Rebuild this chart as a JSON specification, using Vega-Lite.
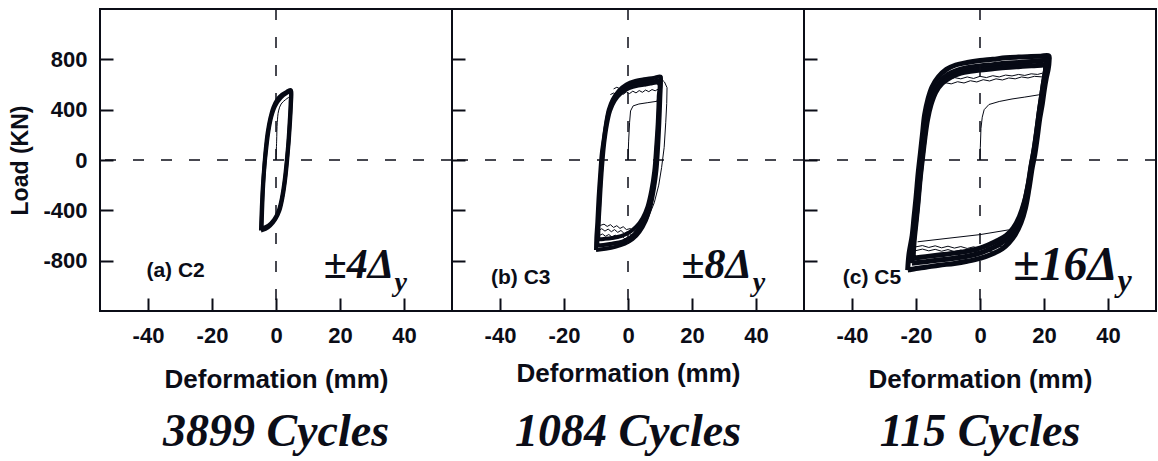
{
  "$schema": "https://vega.github.io/schema/vega-lite/v6.json",
  "padding": {"left": 8, "top": 7, "right": 0, "bottom": 0},
  "autosize": {"type": "pad"},
  "spacing": 0,
  "bounds": "flush",
  "background": "white",
  "config": {
    "view": {"stroke": "#0b0d17", "strokeWidth": 2},
    "axis": {"domain": false, "grid": false, "tickColor": "#0b0d17", "tickWidth": 2, "tickSize": -13,
      "labelFont": "Liberation Sans", "labelFontWeight": "bold", "labelFontSize": 22, "labelColor": "#0b0d17",
      "labelExpr": "'' + datum.value",
      "titleFont": "Liberation Sans", "titleFontWeight": "bold", "titleColor": "#0b0d17"},
    "title": {"font": "Liberation Serif", "fontSize": 46, "fontStyle": "italic", "fontWeight": "bold", "color": "#0b0d17", "orient": "bottom", "offset": 18}
  },
  "datasets": {
    "c2_env": [
      {"loop":"A","i":0,"x":-4.7,"y":-560},{"loop":"A","i":1,"x":-4.6,"y":-480},{"loop":"A","i":2,"x":-4.4,"y":-350},{"loop":"A","i":3,"x":-4.1,"y":-200},{"loop":"A","i":4,"x":-3.7,"y":-60},{"loop":"A","i":5,"x":-3.2,"y":90},{"loop":"A","i":6,"x":-2.6,"y":220},{"loop":"A","i":7,"x":-1.8,"y":330},{"loop":"A","i":8,"x":-0.8,"y":420},{"loop":"A","i":9,"x":0.4,"y":480},{"loop":"A","i":10,"x":1.9,"y":520},{"loop":"A","i":11,"x":3.4,"y":543},{"loop":"A","i":12,"x":4.6,"y":556},{"loop":"A","i":13,"x":4.8,"y":540},{"loop":"A","i":14,"x":4.7,"y":450},{"loop":"A","i":15,"x":4.4,"y":300},{"loop":"A","i":16,"x":4.0,"y":150},{"loop":"A","i":17,"x":3.5,"y":0},{"loop":"A","i":18,"x":2.9,"y":-150},{"loop":"A","i":19,"x":2.1,"y":-290},{"loop":"A","i":20,"x":1.1,"y":-400},{"loop":"A","i":21,"x":-0.2,"y":-470},{"loop":"A","i":22,"x":-1.8,"y":-520},{"loop":"A","i":23,"x":-3.3,"y":-548},{"loop":"A","i":24,"x":-4.7,"y":-560},
      {"loop":"B","i":0,"x":-4.5,"y":-545},{"loop":"B","i":1,"x":-4.35,"y":-420},{"loop":"B","i":2,"x":-4.05,"y":-230},{"loop":"B","i":3,"x":-3.6,"y":-50},{"loop":"B","i":4,"x":-3.0,"y":100},{"loop":"B","i":5,"x":-2.35,"y":230},{"loop":"B","i":6,"x":-1.5,"y":340},{"loop":"B","i":7,"x":-0.3,"y":428},{"loop":"B","i":8,"x":1.5,"y":495},{"loop":"B","i":9,"x":3.2,"y":530},{"loop":"B","i":10,"x":4.45,"y":543},{"loop":"B","i":11,"x":4.55,"y":450},{"loop":"B","i":12,"x":4.25,"y":300},{"loop":"B","i":13,"x":3.85,"y":140},{"loop":"B","i":14,"x":3.35,"y":-5},{"loop":"B","i":15,"x":2.7,"y":-160},{"loop":"B","i":16,"x":1.85,"y":-300},{"loop":"B","i":17,"x":0.8,"y":-405},{"loop":"B","i":18,"x":-0.6,"y":-475},{"loop":"B","i":19,"x":-2.4,"y":-522},{"loop":"B","i":20,"x":-4.5,"y":-545}
    ],
    "c2_thin": [
      {"loop":"I","i":0,"x":0,"y":0},{"loop":"I","i":1,"x":0.2,"y":150},{"loop":"I","i":2,"x":0.4,"y":300},{"loop":"I","i":3,"x":0.8,"y":390},{"loop":"I","i":4,"x":1.6,"y":445},{"loop":"I","i":5,"x":3,"y":480},{"loop":"I","i":6,"x":4.4,"y":505}
    ],
    "c3_env": [
      {"loop":"A","i":0,"x":-10,"y":-715},{"loop":"A","i":1,"x":-9.9,"y":-620},{"loop":"A","i":2,"x":-9.6,"y":-500},{"loop":"A","i":3,"x":-9.2,"y":-300},{"loop":"A","i":4,"x":-8.8,"y":-150},{"loop":"A","i":5,"x":-8.2,"y":50},{"loop":"A","i":6,"x":-7.6,"y":160},{"loop":"A","i":7,"x":-6.8,"y":300},{"loop":"A","i":8,"x":-6,"y":400},{"loop":"A","i":9,"x":-4.8,"y":480},{"loop":"A","i":10,"x":-2.9,"y":550},{"loop":"A","i":11,"x":-0.5,"y":600},{"loop":"A","i":12,"x":2.3,"y":628},{"loop":"A","i":13,"x":5,"y":642},{"loop":"A","i":14,"x":8,"y":652},{"loop":"A","i":15,"x":10.2,"y":662},{"loop":"A","i":16,"x":10.3,"y":630},{"loop":"A","i":17,"x":10.1,"y":500},{"loop":"A","i":18,"x":9.8,"y":300},{"loop":"A","i":19,"x":9.4,"y":100},{"loop":"A","i":20,"x":8.9,"y":-80},{"loop":"A","i":21,"x":8.1,"y":-230},{"loop":"A","i":22,"x":7,"y":-370},{"loop":"A","i":23,"x":5.6,"y":-480},{"loop":"A","i":24,"x":3.6,"y":-570},{"loop":"A","i":25,"x":1.4,"y":-630},{"loop":"A","i":26,"x":-1,"y":-665},{"loop":"A","i":27,"x":-4,"y":-690},{"loop":"A","i":28,"x":-7,"y":-705},{"loop":"A","i":29,"x":-10,"y":-715},
      {"loop":"B","i":0,"x":-9.6,"y":-680},{"loop":"B","i":1,"x":-9.5,"y":-600},{"loop":"B","i":2,"x":-9.2,"y":-450},{"loop":"B","i":3,"x":-8.8,"y":-250},{"loop":"B","i":4,"x":-8.3,"y":-50},{"loop":"B","i":5,"x":-7.7,"y":120},{"loop":"B","i":6,"x":-6.9,"y":270},{"loop":"B","i":7,"x":-5.9,"y":390},{"loop":"B","i":8,"x":-4.5,"y":480},{"loop":"B","i":9,"x":-2.5,"y":545},{"loop":"B","i":10,"x":0,"y":585},{"loop":"B","i":11,"x":3,"y":608},{"loop":"B","i":12,"x":6,"y":620},{"loop":"B","i":13,"x":8.7,"y":628},{"loop":"B","i":14,"x":9.9,"y":632},{"loop":"B","i":15,"x":9.8,"y":500},{"loop":"B","i":16,"x":9.5,"y":300},{"loop":"B","i":17,"x":9,"y":100},{"loop":"B","i":18,"x":8.5,"y":-80},{"loop":"B","i":19,"x":7.7,"y":-230},{"loop":"B","i":20,"x":6.5,"y":-370},{"loop":"B","i":21,"x":5,"y":-480},{"loop":"B","i":22,"x":3,"y":-560},{"loop":"B","i":23,"x":0.8,"y":-615},{"loop":"B","i":24,"x":-1.8,"y":-648},{"loop":"B","i":25,"x":-5,"y":-665},{"loop":"B","i":26,"x":-7.7,"y":-675},{"loop":"B","i":27,"x":-9.6,"y":-680},
      {"loop":"C","i":0,"x":-9.3,"y":-630},{"loop":"C","i":1,"x":-9.2,"y":-520},{"loop":"C","i":2,"x":-8.9,"y":-380},{"loop":"C","i":3,"x":-8.5,"y":-200},{"loop":"C","i":4,"x":-8,"y":-20},{"loop":"C","i":5,"x":-7.4,"y":140},{"loop":"C","i":6,"x":-6.6,"y":280},{"loop":"C","i":7,"x":-5.6,"y":390},{"loop":"C","i":8,"x":-4.2,"y":470},{"loop":"C","i":9,"x":-2.2,"y":530},{"loop":"C","i":10,"x":0.3,"y":570},{"loop":"C","i":11,"x":3.2,"y":592},{"loop":"C","i":12,"x":6.2,"y":603},{"loop":"C","i":13,"x":9.6,"y":610},{"loop":"C","i":14,"x":9.6,"y":500},{"loop":"C","i":15,"x":9.3,"y":300},{"loop":"C","i":16,"x":8.8,"y":100},{"loop":"C","i":17,"x":8.2,"y":-90},{"loop":"C","i":18,"x":7.3,"y":-240},{"loop":"C","i":19,"x":6.1,"y":-370},{"loop":"C","i":20,"x":4.6,"y":-460},{"loop":"C","i":21,"x":2.6,"y":-530},{"loop":"C","i":22,"x":0.4,"y":-575},{"loop":"C","i":23,"x":-2.2,"y":-605},{"loop":"C","i":24,"x":-5,"y":-620},{"loop":"C","i":25,"x":-7.5,"y":-627},{"loop":"C","i":26,"x":-9.3,"y":-630}
    ],
    "c3_thin": [
      {"loop":"T1","i":0,"x":10.2,"y":650},{"loop":"T1","i":1,"x":11.4,"y":620},{"loop":"T1","i":2,"x":12.2,"y":575},{"loop":"T1","i":3,"x":12.1,"y":450},{"loop":"T1","i":4,"x":11.8,"y":300},{"loop":"T1","i":5,"x":11.3,"y":100},{"loop":"T1","i":6,"x":10.5,"y":-60},{"loop":"T1","i":7,"x":9.6,"y":-200},{"loop":"T1","i":8,"x":8.2,"y":-340},{"loop":"T1","i":9,"x":6.3,"y":-460},{"loop":"T1","i":10,"x":4.2,"y":-545},
      {"loop":"T2","i":0,"x":0,"y":0},{"loop":"T2","i":1,"x":0.2,"y":150},{"loop":"T2","i":2,"x":0.5,"y":300},{"loop":"T2","i":3,"x":0.8,"y":390},{"loop":"T2","i":4,"x":1.6,"y":430},{"loop":"T2","i":5,"x":3.4,"y":445},{"loop":"T2","i":6,"x":6,"y":455},{"loop":"T2","i":7,"x":9.1,"y":467},{"loop":"T2","i":8,"x":9.7,"y":560},
      {"loop":"J1","i":0,"x":-5.5,"y":520},{"loop":"J1","i":1,"x":-4.5,"y":532},{"loop":"J1","i":2,"x":-3.5,"y":518},{"loop":"J1","i":3,"x":-2.5,"y":536},{"loop":"J1","i":4,"x":-1.5,"y":522},{"loop":"J1","i":5,"x":-0.5,"y":541},{"loop":"J1","i":6,"x":0.5,"y":528},{"loop":"J1","i":7,"x":1.5,"y":547},{"loop":"J1","i":8,"x":2.5,"y":533},{"loop":"J1","i":9,"x":3.5,"y":552},{"loop":"J1","i":10,"x":4.5,"y":538},{"loop":"J1","i":11,"x":5.5,"y":556},{"loop":"J1","i":12,"x":6.5,"y":543},{"loop":"J1","i":13,"x":7.5,"y":560},{"loop":"J1","i":14,"x":8.5,"y":550},{"loop":"J1","i":15,"x":9.4,"y":563},
      {"loop":"J2","i":0,"x":-4.5,"y":565},{"loop":"J2","i":1,"x":-3.5,"y":578},{"loop":"J2","i":2,"x":-2.5,"y":566},{"loop":"J2","i":3,"x":-1.5,"y":583},{"loop":"J2","i":4,"x":-0.5,"y":571},{"loop":"J2","i":5,"x":0.5,"y":590},{"loop":"J2","i":6,"x":1.5,"y":578},{"loop":"J2","i":7,"x":2.5,"y":596},{"loop":"J2","i":8,"x":3.5,"y":585},{"loop":"J2","i":9,"x":4.5,"y":601},{"loop":"J2","i":10,"x":5.5,"y":590},{"loop":"J2","i":11,"x":6.5,"y":606},{"loop":"J2","i":12,"x":7.5,"y":597},{"loop":"J2","i":13,"x":8.5,"y":610},{"loop":"J2","i":14,"x":9.5,"y":604},
      {"loop":"J3","i":0,"x":-9.2,"y":-560},{"loop":"J3","i":1,"x":-8.2,"y":-546},{"loop":"J3","i":2,"x":-7.2,"y":-565},{"loop":"J3","i":3,"x":-6.2,"y":-549},{"loop":"J3","i":4,"x":-5.2,"y":-570},{"loop":"J3","i":5,"x":-4.2,"y":-553},{"loop":"J3","i":6,"x":-3.2,"y":-575},{"loop":"J3","i":7,"x":-2.2,"y":-560},{"loop":"J3","i":8,"x":-1.2,"y":-584},{"loop":"J3","i":9,"x":-0.2,"y":-570},{"loop":"J3","i":10,"x":0.8,"y":-594},{"loop":"J3","i":11,"x":2,"y":-600},
      {"loop":"J4","i":0,"x":-9,"y":-600},{"loop":"J4","i":1,"x":-8,"y":-588},{"loop":"J4","i":2,"x":-7,"y":-606},{"loop":"J4","i":3,"x":-6,"y":-592},{"loop":"J4","i":4,"x":-5,"y":-612},{"loop":"J4","i":5,"x":-4,"y":-597},{"loop":"J4","i":6,"x":-3,"y":-618},{"loop":"J4","i":7,"x":-2,"y":-604},{"loop":"J4","i":8,"x":-1,"y":-626},{"loop":"J4","i":9,"x":0,"y":-615},
      {"loop":"J5","i":0,"x":-8.7,"y":-520},{"loop":"J5","i":1,"x":-7.5,"y":-510},{"loop":"J5","i":2,"x":-6.5,"y":-528},{"loop":"J5","i":3,"x":-5.5,"y":-514},{"loop":"J5","i":4,"x":-4.5,"y":-536},{"loop":"J5","i":5,"x":-3.5,"y":-522},{"loop":"J5","i":6,"x":-2.5,"y":-544},{"loop":"J5","i":7,"x":-1.5,"y":-530},{"loop":"J5","i":8,"x":-0.5,"y":-553},{"loop":"J5","i":9,"x":0.7,"y":-545},{"loop":"J5","i":10,"x":2,"y":-565},{"loop":"J5","i":11,"x":3.3,"y":-560}
    ],
    "c5_env": [
      {"loop":"A","i":0,"x":-22.6,"y":-875},{"loop":"A","i":1,"x":-22.2,"y":-750},{"loop":"A","i":2,"x":-21.2,"y":-600},{"loop":"A","i":3,"x":-20.6,"y":-450},{"loop":"A","i":4,"x":-20,"y":-300},{"loop":"A","i":5,"x":-19.3,"y":-100},{"loop":"A","i":6,"x":-18.6,"y":60},{"loop":"A","i":7,"x":-18,"y":200},{"loop":"A","i":8,"x":-17.3,"y":360},{"loop":"A","i":9,"x":-16.3,"y":480},{"loop":"A","i":10,"x":-15,"y":580},{"loop":"A","i":11,"x":-13,"y":660},{"loop":"A","i":12,"x":-10.5,"y":720},{"loop":"A","i":13,"x":-7.6,"y":755},{"loop":"A","i":14,"x":-4,"y":775},{"loop":"A","i":15,"x":0,"y":790},{"loop":"A","i":16,"x":4,"y":800},{"loop":"A","i":17,"x":8,"y":812},{"loop":"A","i":18,"x":12,"y":818},{"loop":"A","i":19,"x":16,"y":822},{"loop":"A","i":20,"x":19,"y":825},{"loop":"A","i":21,"x":21.5,"y":828},{"loop":"A","i":22,"x":21.6,"y":790},{"loop":"A","i":23,"x":21.3,"y":720},{"loop":"A","i":24,"x":20.7,"y":650},{"loop":"A","i":25,"x":20.1,"y":560},{"loop":"A","i":26,"x":19.5,"y":450},{"loop":"A","i":27,"x":18.7,"y":334},{"loop":"A","i":28,"x":17.9,"y":180},{"loop":"A","i":29,"x":17.1,"y":40},{"loop":"A","i":30,"x":16.3,"y":-64},{"loop":"A","i":31,"x":15.3,"y":-230},{"loop":"A","i":32,"x":14.2,"y":-382},{"loop":"A","i":33,"x":12.8,"y":-500},{"loop":"A","i":34,"x":11,"y":-594},{"loop":"A","i":35,"x":9,"y":-660},{"loop":"A","i":36,"x":7,"y":-705},{"loop":"A","i":37,"x":4,"y":-745},{"loop":"A","i":38,"x":0,"y":-782},{"loop":"A","i":39,"x":-4,"y":-805},{"loop":"A","i":40,"x":-8,"y":-822},{"loop":"A","i":41,"x":-12.8,"y":-836},{"loop":"A","i":42,"x":-17,"y":-852},{"loop":"A","i":43,"x":-20,"y":-862},{"loop":"A","i":44,"x":-22.6,"y":-875},
      {"loop":"B","i":0,"x":-21.3,"y":-820},{"loop":"B","i":1,"x":-21,"y":-700},{"loop":"B","i":2,"x":-20.4,"y":-550},{"loop":"B","i":3,"x":-19.7,"y":-400},{"loop":"B","i":4,"x":-19,"y":-200},{"loop":"B","i":5,"x":-18.2,"y":0},{"loop":"B","i":6,"x":-17.5,"y":150},{"loop":"B","i":7,"x":-16.8,"y":300},{"loop":"B","i":8,"x":-15.8,"y":430},{"loop":"B","i":9,"x":-14.4,"y":540},{"loop":"B","i":10,"x":-12.5,"y":620},{"loop":"B","i":11,"x":-10,"y":680},{"loop":"B","i":12,"x":-7,"y":715},{"loop":"B","i":13,"x":-3.5,"y":735},{"loop":"B","i":14,"x":0,"y":748},{"loop":"B","i":15,"x":4,"y":758},{"loop":"B","i":16,"x":8,"y":768},{"loop":"B","i":17,"x":12,"y":775},{"loop":"B","i":18,"x":16,"y":782},{"loop":"B","i":19,"x":19.5,"y":790},{"loop":"B","i":20,"x":21,"y":795},{"loop":"B","i":21,"x":20.8,"y":760},{"loop":"B","i":22,"x":20.3,"y":680},{"loop":"B","i":23,"x":19.7,"y":590},{"loop":"B","i":24,"x":19.1,"y":480},{"loop":"B","i":25,"x":18.4,"y":360},{"loop":"B","i":26,"x":17.6,"y":210},{"loop":"B","i":27,"x":16.8,"y":70},{"loop":"B","i":28,"x":16,"y":-40},{"loop":"B","i":29,"x":15,"y":-200},{"loop":"B","i":30,"x":13.8,"y":-350},{"loop":"B","i":31,"x":12.3,"y":-470},{"loop":"B","i":32,"x":10.5,"y":-560},{"loop":"B","i":33,"x":8.5,"y":-625},{"loop":"B","i":34,"x":6,"y":-670},{"loop":"B","i":35,"x":3,"y":-710},{"loop":"B","i":36,"x":0,"y":-740},{"loop":"B","i":37,"x":-4,"y":-765},{"loop":"B","i":38,"x":-8,"y":-780},{"loop":"B","i":39,"x":-12.8,"y":-795},{"loop":"B","i":40,"x":-17,"y":-808},{"loop":"B","i":41,"x":-21.3,"y":-820},
      {"loop":"C","i":0,"x":-20.9,"y":-780},{"loop":"C","i":1,"x":-20.6,"y":-650},{"loop":"C","i":2,"x":-20,"y":-500},{"loop":"C","i":3,"x":-19.4,"y":-350},{"loop":"C","i":4,"x":-18.7,"y":-150},{"loop":"C","i":5,"x":-17.9,"y":30},{"loop":"C","i":6,"x":-17.2,"y":180},{"loop":"C","i":7,"x":-16.4,"y":320},{"loop":"C","i":8,"x":-15.3,"y":440},{"loop":"C","i":9,"x":-13.8,"y":540},{"loop":"C","i":10,"x":-11.8,"y":610},{"loop":"C","i":11,"x":-9,"y":660},{"loop":"C","i":12,"x":-6,"y":690},{"loop":"C","i":13,"x":-3,"y":705},{"loop":"C","i":14,"x":0,"y":715},{"loop":"C","i":15,"x":4,"y":725},{"loop":"C","i":16,"x":8,"y":735},{"loop":"C","i":17,"x":12,"y":742},{"loop":"C","i":18,"x":16,"y":748},{"loop":"C","i":19,"x":19.6,"y":755},{"loop":"C","i":20,"x":20.6,"y":760},{"loop":"C","i":21,"x":20.4,"y":700},{"loop":"C","i":22,"x":19.9,"y":620},{"loop":"C","i":23,"x":19.3,"y":520},{"loop":"C","i":24,"x":18.6,"y":400},{"loop":"C","i":25,"x":17.9,"y":260},{"loop":"C","i":26,"x":17.1,"y":110},{"loop":"C","i":27,"x":16.2,"y":-20},{"loop":"C","i":28,"x":15.2,"y":-180},{"loop":"C","i":29,"x":13.9,"y":-330},{"loop":"C","i":30,"x":12.3,"y":-450},{"loop":"C","i":31,"x":10.4,"y":-540},{"loop":"C","i":32,"x":8.2,"y":-600},{"loop":"C","i":33,"x":5.5,"y":-640},{"loop":"C","i":34,"x":2.5,"y":-675},{"loop":"C","i":35,"x":0,"y":-700},{"loop":"C","i":36,"x":-4,"y":-725},{"loop":"C","i":37,"x":-8,"y":-740},{"loop":"C","i":38,"x":-12.8,"y":-755},{"loop":"C","i":39,"x":-17,"y":-768},{"loop":"C","i":40,"x":-20.9,"y":-780}
    ],
    "c5_thin": [
      {"loop":"I","i":0,"x":0,"y":0},{"loop":"I","i":1,"x":0.1,"y":100},{"loop":"I","i":2,"x":0.3,"y":250},{"loop":"I","i":3,"x":0.7,"y":340},{"loop":"I","i":4,"x":1.3,"y":400},{"loop":"I","i":5,"x":2.8,"y":441},{"loop":"I","i":6,"x":6,"y":465},{"loop":"I","i":7,"x":10,"y":485},{"loop":"I","i":8,"x":14,"y":500},{"loop":"I","i":9,"x":18.4,"y":518},{"loop":"I","i":10,"x":19.6,"y":525},{"loop":"I","i":11,"x":19.7,"y":640},{"loop":"I","i":12,"x":19.9,"y":740},
      {"loop":"B1","i":0,"x":-19.5,"y":-650},{"loop":"B1","i":1,"x":-10,"y":-622},{"loop":"B1","i":2,"x":0,"y":-593},{"loop":"B1","i":3,"x":9,"y":-555},
      {"loop":"J1","i":0,"x":-14,"y":640},{"loop":"J1","i":1,"x":-12,"y":650},{"loop":"J1","i":2,"x":-10,"y":638},{"loop":"J1","i":3,"x":-8,"y":655},{"loop":"J1","i":4,"x":-6,"y":645},{"loop":"J1","i":5,"x":-4,"y":660},{"loop":"J1","i":6,"x":-2,"y":648},{"loop":"J1","i":7,"x":0,"y":665},{"loop":"J1","i":8,"x":2,"y":655},{"loop":"J1","i":9,"x":4,"y":670},{"loop":"J1","i":10,"x":6,"y":660},{"loop":"J1","i":11,"x":8,"y":675},{"loop":"J1","i":12,"x":10,"y":668},{"loop":"J1","i":13,"x":12,"y":680},{"loop":"J1","i":14,"x":14,"y":672},{"loop":"J1","i":15,"x":16,"y":685},{"loop":"J1","i":16,"x":18,"y":680},{"loop":"J1","i":17,"x":19.5,"y":690},
      {"loop":"J2","i":0,"x":-13,"y":600},{"loop":"J2","i":1,"x":-11,"y":615},{"loop":"J2","i":2,"x":-9,"y":605},{"loop":"J2","i":3,"x":-7,"y":622},{"loop":"J2","i":4,"x":-5,"y":612},{"loop":"J2","i":5,"x":-3,"y":630},{"loop":"J2","i":6,"x":-1,"y":620},{"loop":"J2","i":7,"x":1,"y":638},{"loop":"J2","i":8,"x":3,"y":628},{"loop":"J2","i":9,"x":5,"y":645},{"loop":"J2","i":10,"x":7,"y":636},{"loop":"J2","i":11,"x":9,"y":652},{"loop":"J2","i":12,"x":11,"y":645},{"loop":"J2","i":13,"x":13,"y":660},{"loop":"J2","i":14,"x":15,"y":652},{"loop":"J2","i":15,"x":17,"y":665},{"loop":"J2","i":16,"x":19.5,"y":660},
      {"loop":"J3","i":0,"x":-20,"y":-690},{"loop":"J3","i":1,"x":-18,"y":-680},{"loop":"J3","i":2,"x":-16,"y":-695},{"loop":"J3","i":3,"x":-14,"y":-682},{"loop":"J3","i":4,"x":-12,"y":-698},{"loop":"J3","i":5,"x":-10,"y":-685},{"loop":"J3","i":6,"x":-8,"y":-700},{"loop":"J3","i":7,"x":-6,"y":-688},{"loop":"J3","i":8,"x":-4,"y":-703},{"loop":"J3","i":9,"x":-2,"y":-690},{"loop":"J3","i":10,"x":0,"y":-706},{"loop":"J3","i":11,"x":2,"y":-695},{"loop":"J3","i":12,"x":4,"y":-705},{"loop":"J3","i":13,"x":6,"y":-690},{"loop":"J3","i":14,"x":8,"y":-680},
      {"loop":"J4","i":0,"x":-20,"y":-720},{"loop":"J4","i":1,"x":-18,"y":-708},{"loop":"J4","i":2,"x":-16,"y":-722},{"loop":"J4","i":3,"x":-14,"y":-710},{"loop":"J4","i":4,"x":-12,"y":-725},{"loop":"J4","i":5,"x":-10,"y":-712},{"loop":"J4","i":6,"x":-8,"y":-728},{"loop":"J4","i":7,"x":-6,"y":-716},{"loop":"J4","i":8,"x":-4,"y":-730},{"loop":"J4","i":9,"x":-2,"y":-720},{"loop":"J4","i":10,"x":0,"y":-735},{"loop":"J4","i":11,"x":2,"y":-725},{"loop":"J4","i":12,"x":4,"y":-730}
    ]
  },
  "hconcat": [
    {
      "width": 352, "height": 302,
      "title": {"text": "3899 Cycles", "offset": 18},
      "layer": [
        {"data": {"name": "c2_env"}, "mark": {"type": "line", "interpolate": "catmull-rom", "strokeWidth": 4, "color": "#060914"},
         "encoding": {
           "x": {"field": "x", "type": "quantitative", "scale": {"domain": [-55, 55], "nice": false, "zero": false},
                 "axis": {"title": "Deformation (mm)", "values": [-40, -20, 0, 20, 40], "labelPadding": 27, "titleFontSize": 26, "titlePadding": 20}},
           "y": {"field": "y", "type": "quantitative", "scale": {"domain": [-1200, 1200], "nice": false, "zero": false},
                 "axis": {"title": "Load (KN)", "values": [-800, -400, 0, 400, 800], "labelPadding": 26, "titleFontSize": 23, "titlePadding": 10}},
           "detail": {"field": "loop"}, "order": {"field": "i", "type": "quantitative"}}},
        {"data": {"values": [{}]}, "mark": {"type": "rule", "strokeDash": [11, 17], "strokeWidth": 1.5, "color": "#0b0d17"},
         "encoding": {"y": {"datum": 0, "type": "quantitative"}}},
        {"data": {"values": [{}]}, "mark": {"type": "rule", "strokeDash": [11, 17], "strokeWidth": 1.5, "color": "#0b0d17"},
         "encoding": {"x": {"datum": 0, "type": "quantitative"}}},
        {"data": {"name": "c2_thin"}, "mark": {"type": "line", "interpolate": "catmull-rom", "strokeWidth": 1, "color": "#060914"},
         "encoding": {
           "x": {"field": "x", "type": "quantitative"},
           "y": {"field": "y", "type": "quantitative"},
           "detail": {"field": "loop"}, "order": {"field": "i", "type": "quantitative"}}},
        {"data": {"values": [{"x": -40.5, "y": -886, "t": "(a) C2"}]},
         "mark": {"type": "text", "align": "left", "baseline": "middle", "font": "Liberation Sans", "fontWeight": "bold", "fontSize": 21, "color": "#0b0d17"},
         "encoding": {"x": {"field": "x", "type": "quantitative"}, "y": {"field": "y", "type": "quantitative"}, "text": {"field": "t"}}},
        {"data": {"values": [{"x": 25.9, "y": -934, "t": "±4Δ"}]},
         "mark": {"type": "text", "align": "center", "baseline": "alphabetic", "font": "Liberation Serif", "fontStyle": "italic", "fontWeight": "bold", "fontSize": 42, "color": "#0b0d17"},
         "encoding": {"x": {"field": "x", "type": "quantitative"}, "y": {"field": "y", "type": "quantitative"}, "text": {"field": "t"}}},
        {"data": {"values": [{"x": 37, "y": -1040, "t": "y"}]},
         "mark": {"type": "text", "align": "left", "baseline": "alphabetic", "font": "Liberation Serif", "fontStyle": "italic", "fontWeight": "bold", "fontSize": 28, "color": "#0b0d17"},
         "encoding": {"x": {"field": "x", "type": "quantitative"}, "y": {"field": "y", "type": "quantitative"}, "text": {"field": "t"}}}
      ]
    },
    {
      "width": 352, "height": 302,
      "title": {"text": "1084 Cycles", "offset": 24},
      "layer": [
        {"data": {"name": "c3_env"}, "mark": {"type": "line", "interpolate": "catmull-rom", "strokeWidth": 4, "color": "#060914"},
         "encoding": {
           "x": {"field": "x", "type": "quantitative", "scale": {"domain": [-55, 55], "nice": false, "zero": false},
                 "axis": {"title": "Deformation (mm)", "values": [-40, -20, 0, 20, 40], "labelPadding": 27, "titleFontSize": 26, "titlePadding": 14}},
           "y": {"field": "y", "type": "quantitative", "scale": {"domain": [-1200, 1200], "nice": false, "zero": false},
                 "axis": {"title": null, "labels": false, "values": [-800, -400, 0, 400, 800]}},
           "detail": {"field": "loop"}, "order": {"field": "i", "type": "quantitative"}}},
        {"data": {"values": [{}]}, "mark": {"type": "rule", "strokeDash": [11, 17], "strokeWidth": 1.5, "color": "#0b0d17"},
         "encoding": {"y": {"datum": 0, "type": "quantitative"}}},
        {"data": {"values": [{}]}, "mark": {"type": "rule", "strokeDash": [11, 17], "strokeWidth": 1.5, "color": "#0b0d17"},
         "encoding": {"x": {"datum": 0, "type": "quantitative"}}},
        {"data": {"name": "c3_thin"}, "mark": {"type": "line", "interpolate": "linear", "strokeWidth": 1, "color": "#060914"},
         "encoding": {
           "x": {"field": "x", "type": "quantitative"},
           "y": {"field": "y", "type": "quantitative"},
           "detail": {"field": "loop"}, "order": {"field": "i", "type": "quantitative"}}},
        {"data": {"values": [{"x": -42.8, "y": -934, "t": "(b) C3"}]},
         "mark": {"type": "text", "align": "left", "baseline": "middle", "font": "Liberation Sans", "fontWeight": "bold", "fontSize": 21, "color": "#0b0d17"},
         "encoding": {"x": {"field": "x", "type": "quantitative"}, "y": {"field": "y", "type": "quantitative"}, "text": {"field": "t"}}},
        {"data": {"values": [{"x": 27.7, "y": -939, "t": "±8Δ"}]},
         "mark": {"type": "text", "align": "center", "baseline": "alphabetic", "font": "Liberation Serif", "fontStyle": "italic", "fontWeight": "bold", "fontSize": 42, "color": "#0b0d17"},
         "encoding": {"x": {"field": "x", "type": "quantitative"}, "y": {"field": "y", "type": "quantitative"}, "text": {"field": "t"}}},
        {"data": {"values": [{"x": 39, "y": -1040, "t": "y"}]},
         "mark": {"type": "text", "align": "left", "baseline": "alphabetic", "font": "Liberation Serif", "fontStyle": "italic", "fontWeight": "bold", "fontSize": 28, "color": "#0b0d17"},
         "encoding": {"x": {"field": "x", "type": "quantitative"}, "y": {"field": "y", "type": "quantitative"}, "text": {"field": "t"}}}
      ]
    },
    {
      "width": 352, "height": 302,
      "title": {"text": "115 Cycles", "offset": 18},
      "layer": [
        {"data": {"name": "c5_env"}, "mark": {"type": "line", "interpolate": "catmull-rom", "strokeWidth": 5, "color": "#060914"},
         "encoding": {
           "x": {"field": "x", "type": "quantitative", "scale": {"domain": [-55, 55], "nice": false, "zero": false},
                 "axis": {"title": "Deformation (mm)", "values": [-40, -20, 0, 20, 40], "labelPadding": 27, "titleFontSize": 26, "titlePadding": 20}},
           "y": {"field": "y", "type": "quantitative", "scale": {"domain": [-1200, 1200], "nice": false, "zero": false},
                 "axis": {"title": null, "labels": false, "values": [-800, -400, 0, 400, 800]}},
           "detail": {"field": "loop"}, "order": {"field": "i", "type": "quantitative"}}},
        {"data": {"values": [{}]}, "mark": {"type": "rule", "strokeDash": [11, 17], "strokeWidth": 1.5, "color": "#0b0d17"},
         "encoding": {"y": {"datum": 0, "type": "quantitative"}}},
        {"data": {"values": [{}]}, "mark": {"type": "rule", "strokeDash": [11, 17], "strokeWidth": 1.5, "color": "#0b0d17"},
         "encoding": {"x": {"datum": 0, "type": "quantitative"}}},
        {"data": {"name": "c5_thin"}, "mark": {"type": "line", "interpolate": "linear", "strokeWidth": 1, "color": "#060914"},
         "encoding": {
           "x": {"field": "x", "type": "quantitative"},
           "y": {"field": "y", "type": "quantitative"},
           "detail": {"field": "loop"}, "order": {"field": "i", "type": "quantitative"}}},
        {"data": {"values": [{"x": -42.9, "y": -940, "t": "(c) C5"}]},
         "mark": {"type": "text", "align": "left", "baseline": "middle", "font": "Liberation Sans", "fontWeight": "bold", "fontSize": 21, "color": "#0b0d17"},
         "encoding": {"x": {"field": "x", "type": "quantitative"}, "y": {"field": "y", "type": "quantitative"}, "text": {"field": "t"}}},
        {"data": {"values": [{"x": 26.7, "y": -950, "t": "±16Δ"}]},
         "mark": {"type": "text", "align": "center", "baseline": "alphabetic", "font": "Liberation Serif", "fontStyle": "italic", "fontWeight": "bold", "fontSize": 48, "color": "#0b0d17"},
         "encoding": {"x": {"field": "x", "type": "quantitative"}, "y": {"field": "y", "type": "quantitative"}, "text": {"field": "t"}}},
        {"data": {"values": [{"x": 43, "y": -1040, "t": "y"}]},
         "mark": {"type": "text", "align": "left", "baseline": "alphabetic", "font": "Liberation Serif", "fontStyle": "italic", "fontWeight": "bold", "fontSize": 32, "color": "#0b0d17"},
         "encoding": {"x": {"field": "x", "type": "quantitative"}, "y": {"field": "y", "type": "quantitative"}, "text": {"field": "t"}}}
      ]
    }
  ]
}
